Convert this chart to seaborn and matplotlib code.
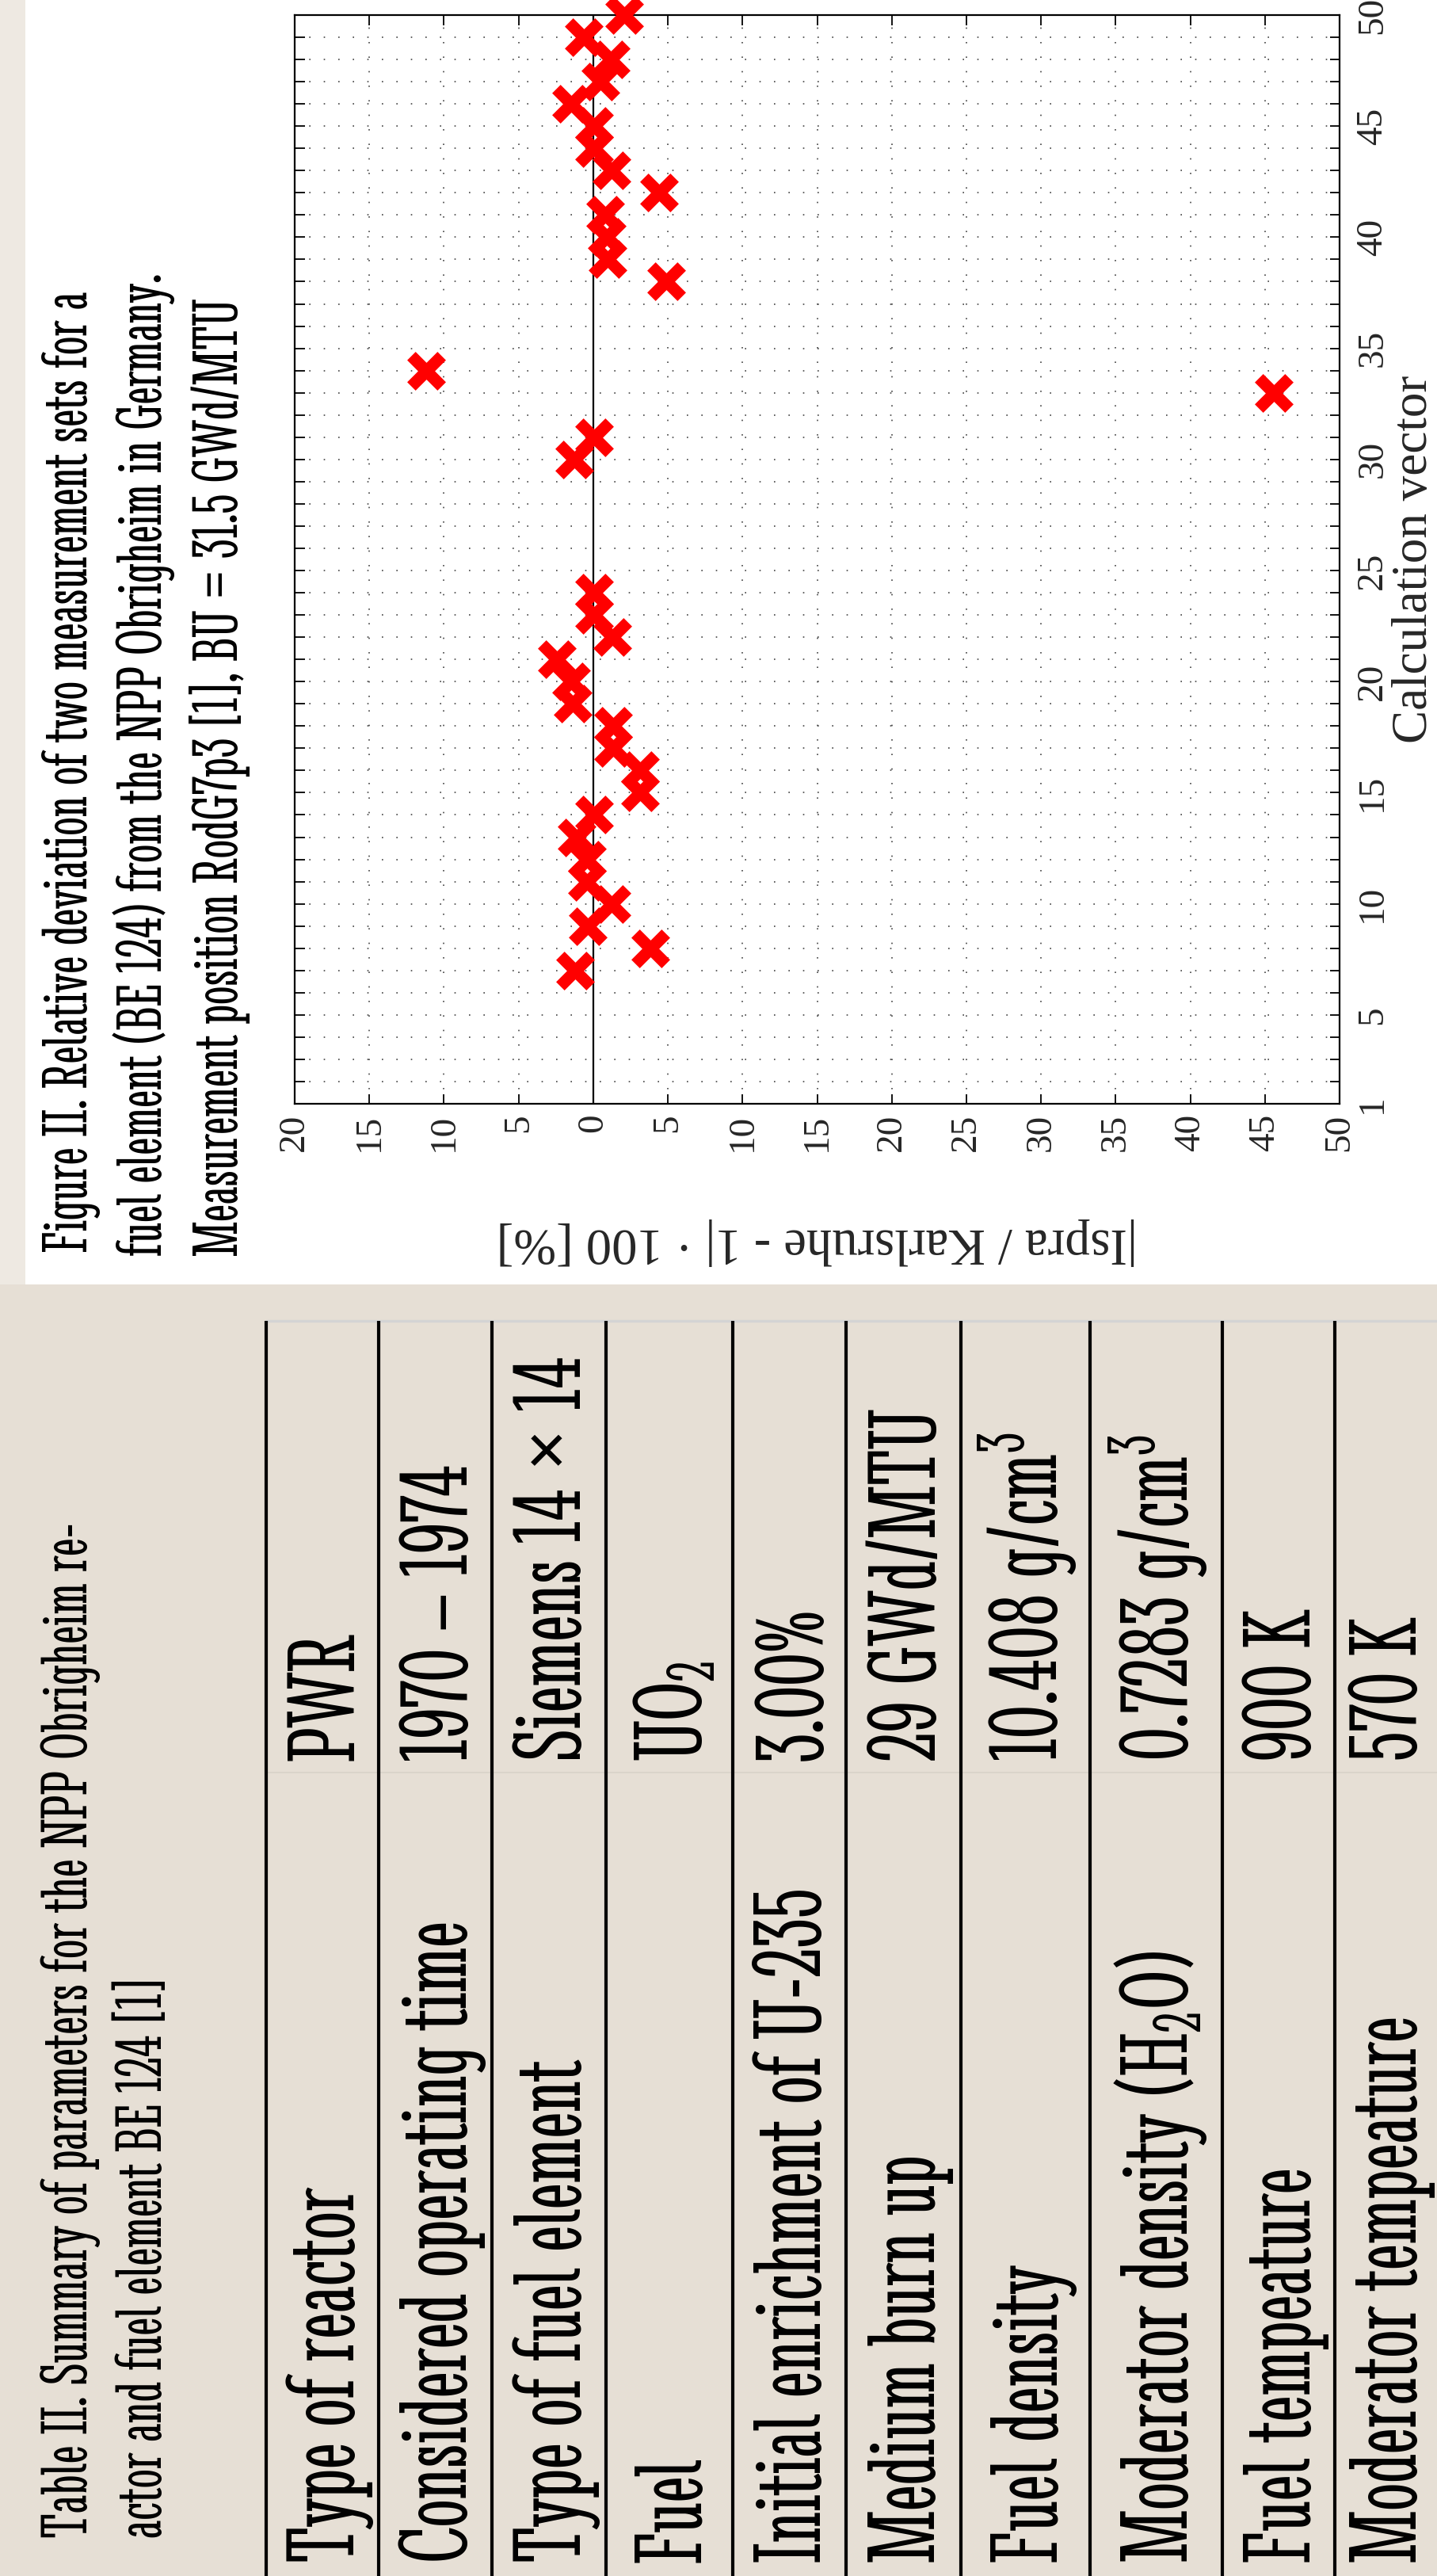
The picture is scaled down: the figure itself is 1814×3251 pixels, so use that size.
import matplotlib.pyplot as plt
import matplotlib.ticker as mtick
import matplotlib.font_manager as fm
from matplotlib.patches import Rectangle
import seaborn as sns

# data read from the (rotated) slide
calc_vector = [7, 8, 9, 10, 11, 12, 13, 14, 15, 16, 17, 18, 19, 20, 21, 22, 23, 24,
               30, 31, 33, 34, 38, 39, 40, 41, 42, 43, 44, 45, 46, 47, 48, 49, 50]
deviation = [-1.19, 3.83, -0.38, 1.21, -0.44, -0.44, -1.1, 0.05, 3.16, 3.16, 1.36, 1.36,
             -1.38, -1.48, -2.42, 1.27, 0.05, 0.05, -1.29, 0.05, 45.6, -11.2, 4.87, 0.95,
             0.89, 0.8, 4.39, 1.21, 0.05, 0.05, -1.48, 0.5, 1.17, -0.63, 2.1]

x_ticks = list(range(-20, 55, 5))
x_tick_labels = [str(abs(v)) for v in x_ticks]
y_ticks = [1, 5, 10, 15, 20, 25, 30, 35, 40, 45, 50]
y_tick_labels = [str(v) for v in y_ticks]

fig_caption = ['Figure II. Relative deviation of two measurement sets for a',
               'fuel element (BE 124) from the NPP Obrigheim in Germany.',
               'Measurement position RodG7p3 [1], BU = 31.5 GWd/MTU']
table_caption = ['Table II. Summary of parameters for the NPP Obrigheim re-',
                 'actor and fuel element BE 124 [1]']
table_labels = ['Type of reactor', 'Considered operating time', 'Type of fuel element', 'Fuel',
                'Initial enrichment of U-235', 'Medium burn up', 'Fuel density',
                'Moderator density (H$_2$O)', 'Fuel tempeature', 'Moderator tempeature']
table_values = ['PWR', '1970 – 1974', 'Siemens 14 × 14', 'UO$_2$', '3.00%', '29 GWd/MTU',
                '10.408 g/cm$^3$', '0.7283 g/cm$^3$', '900 K', '570 K']

W, H = 1814, 3251
row_edges = [336, 478, 621, 765, 925, 1068, 1213, 1376, 1543, 1685, 1812]

sns.set_style('white')
nomes = {f.name for f in fm.fontManager.ttflist}
serifa = 'Liberation Serif' if 'Liberation Serif' in nomes else 'DejaVu Serif'
plt.rcParams['font.family'] = ['DejaVu Sans']
plt.rcParams['mathtext.default'] = 'regular'

fig = plt.figure(figsize=(W / 100, H / 100), dpi=100)
renderer = fig.canvas.get_renderer()


def largura(fp, s='Moderator tempeature'):
    t = fig.text(0, 0, s, fontproperties=fp, fontsize=50)
    w = t.get_window_extent(renderer).width
    t.remove()
    return w


# fonte proporcional e estreita (o slide usa uma fonte bem condensada)
sem_serifa, com_serifa = [fm.FontProperties(family='DejaVu Sans')], []
for f in fm.fontManager.ttflist:
    estreita = 'condensed' in str(f.stretch) or 'Narrow' in f.name or 'Condensed' in f.name
    normal = f.style == 'normal' and str(f.weight) in ('400', 'normal', 'regular', 'book')
    mono = 'Mono' in f.name or 'Mono' in f.fname
    if estreita and normal and not mono and 'Italic' not in f.fname:
        fp = fm.FontProperties(fname=f.fname)
        if largura(fp, 'iiiiiiii') < 0.6 * largura(fp, 'MMMMMMMM'):
            (com_serifa if 'Serif' in f.name else sem_serifa).append(fp)
if len(sem_serifa) > 1 or not com_serifa:
    fonte = min(sem_serifa, key=largura)
else:
    fonte = min(com_serifa, key=largura)


def fit(t, comprimento, maximo=200):
    # ajusta o tamanho da fonte ao comprimento medido na imagem
    bb = t.get_window_extent(renderer)
    t.set_fontsize(min(maximo, t.get_fontsize() * comprimento / max(bb.width, bb.height)))
    return t.get_fontsize()


# fundo / moldura do slide em coordenadas de pixel
bg = fig.add_axes([0, 0, 1, 1], zorder=0)
bg.set_xlim(0, W)
bg.set_ylim(H, 0)
bg.axis('off')
bg.add_patch(Rectangle((0, 0), 32, 1621, color='#EEE9E2', lw=0))
bg.add_patch(Rectangle((0, 1621), W, H - 1621, color='#E6DFD5', lw=0))
bg.plot([336, W], [1667, 1667], color='#D4D4D4', lw=2.5)
bg.plot([336, W], [2237, 2237], color='#D8D2C8', lw=1.2)
for e in row_edges[:-1]:
    bg.plot([e, e], [1667, H], color='black', lw=3, solid_capstyle='butt')

kw = dict(rotation=90, rotation_mode='anchor', ha='left', va='baseline', color='black',
          fontproperties=fonte)
t0 = bg.text(110, 1580, fig_caption[0], **kw)
t0.set_fontsize(40)
tam = fit(t0, 1457, maximo=60)
for x, txt in zip([204, 300], fig_caption[1:]):
    bg.text(x, 1585, txt, **kw).set_fontsize(tam)
t1 = bg.text(110, 3203, table_caption[0], **kw)
t1.set_fontsize(40)
tam_t = fit(t1, 1540, maximo=62)
bg.text(204, 3203, table_caption[1], **kw).set_fontsize(tam_t)

tl = bg.text(0, 0, table_labels[-1], **kw)
tl.set_fontsize(60)
tam_lab = fit(tl, 830, maximo=90)
tl.set_text(table_values[2])
tl.set_fontsize(60)
tam_val = fit(tl, 570, maximo=90)
tl.remove()
tam_tab = min(tam_lab, tam_val)
for i, (lab, val) in enumerate(zip(table_labels, table_values)):
    centro = (row_edges[i] + row_edges[i + 1]) / 2
    bg.text(centro + 40, 3234, lab, **kw).set_fontsize(tam_tab)
    bg.text(centro + 40, 2222, val, **kw).set_fontsize(tam_tab)

# grafico (girado: eixo x = desvio, eixo y = vetor de calculo)
ax = fig.add_axes([372 / W, 1 - 1393 / H, 1319 / W, 1374 / H], zorder=2)
ax.set_facecolor('white')
ax.set_axisbelow(True)
ax.axvline(0, color='black', lw=1.6, zorder=1)
sns.scatterplot(x=deviation, y=calc_vector, marker='x', color='#FF0000', s=760,
                linewidth=10.8, ax=ax, zorder=5, clip_on=False, legend=False)

ax.set_xlim(-20, 50)
ax.set_ylim(1, 50)
ax.set_xticks(x_ticks)
ax.set_xticklabels(x_tick_labels, rotation=90, fontfamily=serifa, fontsize=34)
ax.set_yticks(y_ticks)
ax.set_yticklabels(y_tick_labels, rotation=90, va='center', fontfamily=serifa, fontsize=34)
ax.yaxis.set_minor_locator(mtick.MultipleLocator(1))
ax.tick_params(which='both', direction='in', top=True, right=True, left=True, bottom=True,
               labelleft=False, labelright=True, length=9, width=1.3, color='black')
ax.tick_params(axis='x', pad=9)
ax.tick_params(axis='y', pad=15)

pontilhado = dict(ls=(0, (1, 10)), lw=1.2, color='#444444')
ax.grid(which='both', axis='y', **pontilhado)
ax.grid(which='major', axis='x', **pontilhado)
for s in ax.spines.values():
    s.set_linewidth(1.6)
    s.set_color('black')

ax.set_ylabel('Calculation vector', rotation=90, fontfamily=serifa, fontsize=40)
ax.yaxis.set_label_position('right')
ax.yaxis.set_label_coords(1.05, 0.5)
fit(ax.yaxis.label, 464)
ax.set_xlabel('|Ispra / Karlsruhe - 1| · 100 [%]', rotation=180, fontfamily=serifa, fontsize=40)
ax.xaxis.set_label_coords(0.5, -0.105)
fit(ax.xaxis.label, 808)

fig.savefig('out.png', dpi=100, facecolor='white')
